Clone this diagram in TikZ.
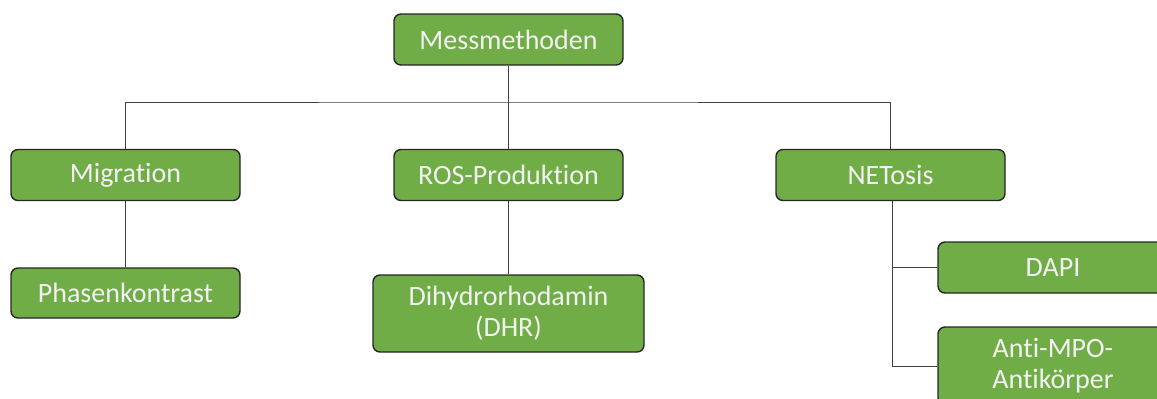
\documentclass[tikz,border=0pt]{standalone}
\usepackage{fontspec}
\setmainfont{Carlito}[Ligatures={NoCommon}]
\definecolor{boxgreen}{HTML}{70AD47}
\definecolor{boxtext}{HTML}{F2F2F2}
\begin{document}
\begin{tikzpicture}[x=1pt,y=-1pt,
  box/.style={draw=black!85, line width=1.4pt, fill=boxgreen, rounded corners=7pt,
    text=boxtext, font=\fontsize{28}{31}\selectfont, align=center, inner sep=0pt,
    minimum width=229pt, minimum height=51pt},
  link/.style={draw=black!75, line width=1pt}]
\useasboundingbox (0,0) rectangle (1157,399);
\clip (0,0) rectangle (1157,399);

% boxes
\node[box] (top)  at (508.5,39.5) {Messmethoden};
\node[box] (mig)  at (125.5,175)  {Migration};
\node[box] (ros)  at (508.5,175)  {ROS-Produktion};
\node[box] (net)  at (890.5,175)  {NETosis};
\node[box, minimum height=50pt] (pha) at (125.5,293) {Phasenkontrast};
\node[box, minimum width=271pt, minimum height=77pt] (dhr) at (508.5,313.5) {Dihydrorhodamin\\(DHR)};
\node[box, minimum width=230pt] (dapi) at (1053,267.5) {DAPI};
\node[box, minimum width=230pt, minimum height=78pt] (anti) at (1053,366) {Anti-MPO-\\Antikörper};

% tree connectors
\coordinate (bus) at (508.5,102);
\coordinate (netdrop) at ([xshift=1.5pt]net.south);
\draw[link] (top.south) -- (bus);
\draw[link] (mig.north) |- (bus) -| (net.north);
\draw[link] (bus) -- (ros.north);
\draw[link] (mig.south) -- (pha.north);
\draw[link] (ros.south) -- (dhr.north);
\draw[link] (netdrop) |- (dapi.west);
\draw[link] (netdrop) |- (anti.west);
\end{tikzpicture}
\end{document}
